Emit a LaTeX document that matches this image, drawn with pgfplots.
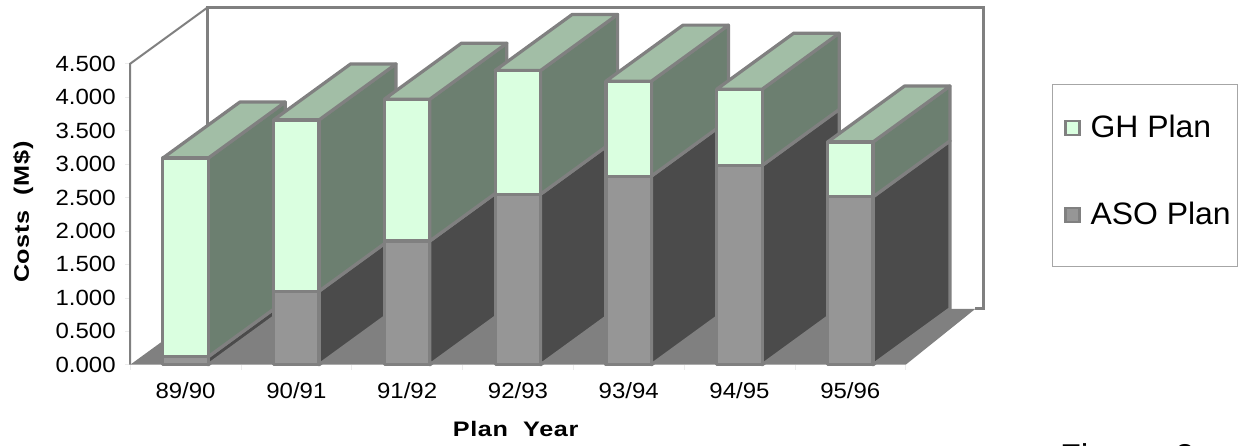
\documentclass[border=0pt]{standalone}
\usepackage{pgfplots}
\pgfplotsset{compat=1.18}
\usepackage{fontspec}
\setmainfont{Liberation Sans}
\newfontfamily\tickfont[FakeStretch=1.09]{Liberation Sans}
\newfontfamily\labelfont[FakeStretch=1.2,LetterSpace=3]{Liberation Sans Bold}
\newfontfamily\legendfont[FakeStretch=1.03]{Liberation Sans}

\definecolor{frame}{HTML}{808080}
\definecolor{floorgray}{HTML}{808080}
\definecolor{ghfront}{HTML}{DAFFE0}
\definecolor{ghside}{HTML}{6C7F70}
\definecolor{ghtop}{HTML}{A2BEA6}
\definecolor{asofront}{HTML}{969696}
\definecolor{asoside}{HTML}{4B4B4B}

% Oblique depth of the chart, in axis units
\def\depthx{0.695}
\def\depthy{0.837}
\def\halfbar{0.205}

% One stacked bar with its side and top faces: category, ASO cost, GH cost
\newcommand{\drawbar}[3]{%
  \pgfmathsetmacro\xl{#1-\halfbar}%
  \pgfmathsetmacro\xr{#1+\halfbar}%
  \pgfmathsetmacro\xrb{\xr+\depthx}%
  \pgfmathsetmacro\xlb{\xl+\depthx}%
  \pgfmathsetmacro\low{#2}%
  \pgfmathsetmacro\high{#2+#3}%
  \pgfmathsetmacro\lowb{\low+\depthy}%
  \pgfmathsetmacro\highb{\high+\depthy}%
  \addplot[faces,fill=asoside] coordinates {(\xr,0) (\xrb,\depthy) (\xrb,\lowb) (\xr,\low)} --cycle;
  \addplot[faces,fill=ghside] coordinates {(\xr,\low) (\xrb,\lowb) (\xrb,\highb) (\xr,\high)} --cycle;
  \addplot[faces,fill=ghtop] coordinates {(\xl,\high) (\xlb,\highb) (\xrb,\highb) (\xr,\high)} --cycle;
  \addplot[faces,fill=asofront] coordinates {(\xl,0) (\xr,0) (\xr,\low) (\xl,\low)} --cycle;
  \addplot[faces,fill=ghfront] coordinates {(\xl,\low) (\xr,\low) (\xr,\high) (\xl,\high)} --cycle;
}

\begin{document}
\begin{tikzpicture}[x=1pt,y=1pt]
\path[use as bounding box,clip] (0,0) rectangle (1238,445);
\begin{axis}[
  at={(117.5,120)},anchor=south west,
  scale only axis,width=775.5pt,height=301pt,
  xmin=-0.5,xmax=6.5,ymin=0,ymax=4.5,
  clip=false,
  axis line style={draw=none},
  faces/.style={draw=frame,line width=3.2pt,line join=round,mark=none,forget plot},
  xtick={0,...,6},
  xticklabels={89/90,90/91,91/92,92/93,93/94,94/95,95/96},
  ytick={0,0.5,...,4.5},
  minor xtick={-0.5,0.5,1.5,2.5,3.5,4.5,5.5,6.5},
  major x tick style={draw=none},
  tick pos=left,
  minor tick length=5pt,
  major tick length=5pt,
  tick align=outside,
  tick style={draw=gray!15,line width=0.6pt},
  tick label style={font=\tickfont\fontsize{22}{22}\selectfont},
  /pgf/number format/.cd,fixed,fixed zerofill,precision=3,assume math mode=true,
  /pgfplots/.cd,
  yticklabel style={anchor=east,xshift=-6pt},
  xticklabel style={anchor=center,yshift=-21pt},
  xlabel={Plan\ \ Year},
  ylabel={Costs\ \ (M\$)},
  x label style={font=\labelfont\fontsize{21}{21}\selectfont,at={(axis description cs:0.497,-0.214)},anchor=center},
  y label style={font=\labelfont\fontsize{21}{21}\selectfont,at={(axis description cs:-0.138,0.507)},anchor=center,rotate=0},
  legend cell align=left,
  legend style={
    at={(axis cs:7.81,4.175)},anchor=north west,
    draw=none,fill=none,
    font=\legendfont\fontsize{31}{31}\selectfont,
    inner xsep=13pt,inner ysep=27pt,
    row sep=56pt,
    /tikz/column 1/.style={column sep=8pt},
  },
]
% Rear wall, side wall and floor of the chart space
\addplot[draw=none,fill=floorgray,forget plot] coordinates {(-0.5,0) (0.195,\depthy) (7.13,\depthy) (6.5,0)} --cycle;
\addplot[draw=frame,line width=2pt,mark=none,forget plot] coordinates {(-0.5,0) (-0.5,4.5) (0.195,5.337)};
\addplot[draw=frame,line width=3pt,mark=none,forget plot] coordinates {(0.195,\depthy) (0.195,5.337) (7.205,5.337) (7.205,\depthy) (7.13,\depthy)};

\drawbar{0}{0.12}{2.97}
\drawbar{1}{1.10}{2.56}
\drawbar{2}{1.85}{2.12}
\drawbar{3}{2.55}{1.85}
\drawbar{4}{2.82}{1.42}
\drawbar{5}{2.98}{1.14}
\drawbar{6}{2.51}{0.82}

\addlegendimage{legend image code/.code={\draw[draw=frame,line width=2.5pt,fill=ghfront] (0pt,-7pt) rectangle (14pt,7pt);}}
\addlegendentry{\raisebox{3pt}{GH Plan}}
\addlegendimage{legend image code/.code={\draw[draw=frame,line width=2.5pt,fill=asofront] (0pt,-7pt) rectangle (14pt,7pt);}}
\addlegendentry{\raisebox{3pt}{ASO Plan}}
\end{axis}
% Frame of the legend
\draw[gray!70,line width=0.8pt] (1052,179) rectangle (1237,361);
\node[anchor=base west,inner sep=0pt,font=\legendfont\fontsize{33}{33}\selectfont] at (1060,-22) {Figure\ \ 2};
\end{tikzpicture}
\end{document}
